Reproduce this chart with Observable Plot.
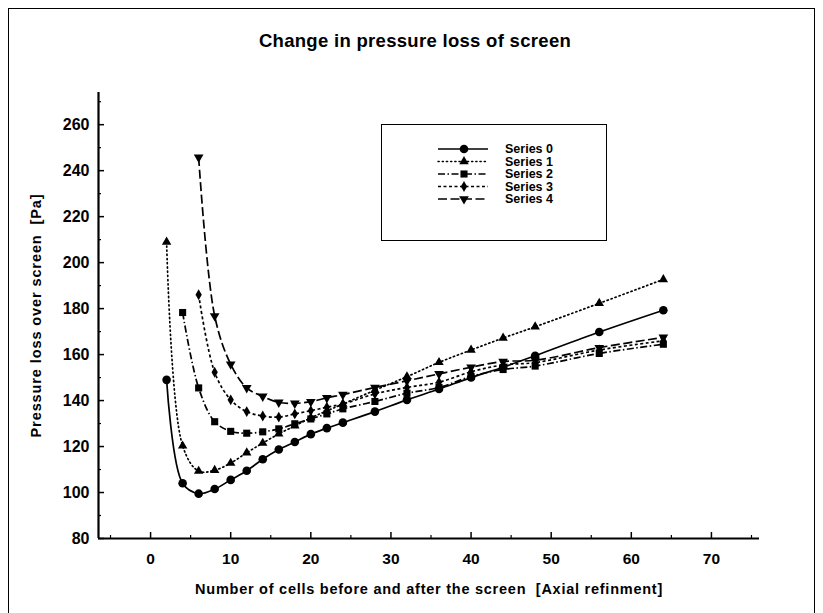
<!DOCTYPE html>
<html>
<head>
<meta charset="utf-8">
<script src="https://cdn.jsdelivr.net/npm/d3@7"></script>
<script src="https://cdn.jsdelivr.net/npm/@observablehq/plot@0.6"></script>
<style>
  body { margin: 0; background: #fff; }
  #wrap { position: relative; width: 823px; height: 613px; overflow: hidden; font-family: "Liberation Sans", Arial, sans-serif; font-weight: bold; color: #000; }
  #border { position: absolute; left: 8px; top: 8px; width: 807px; height: 640px; border: 1.5px solid #000; box-sizing: border-box; }
  #title { position: absolute; left: 0; width: 830px; top: 30px; text-align: center; font-size: 18.5px; letter-spacing: 0.3px; }
  #chart { position: absolute; left: 0; top: 0; }
  #legend { position: absolute; left: 381px; top: 124px; width: 226px; height: 117px; border: 1.5px solid #000; box-sizing: border-box; background: #fff; }
</style>
</head>
<body>
<div id="wrap">
  <div id="border"></div>
  <div id="chart"></div>
  <div id="title">Change in pressure loss of screen</div>
  <div id="legend"></div>
</div>
<script>
// ---- data ----
const cells = [2, 4, 6, 8, 10, 12, 14, 16, 18, 20, 22, 24, 28, 32, 36, 40, 44, 48, 56, 64];
const series0 = [149, 104, 99.5, 101.5, 105.5, 109.5, 114.5, 118.7, 122, 125.4, 128, 130.4, 135.2, 140.3, 145, 150, 154.5, 159.5, 169.8, 179.3];
const series1 = [209, 120.3, 109.3, 109.7, 112.8, 117.3, 121.5, 125.5, 129, 132.5, 135.5, 138.5, 144.5, 150.4, 156.6, 162, 167.2, 172.1, 182.3, 192.7];
const series2 = [null, 178.3, 145.5, 130.8, 126.6, 125.8, 126.4, 127.7, 129.9, 132, 134.2, 136.4, 139.6, 143.2, 145.7, 150.5, 153.5, 155, 160.5, 164.5];
const series3 = [null, null, 186, 152.3, 140.3, 135.2, 133.3, 132.8, 134.2, 135.6, 137.1, 138.5, 142.9, 145.7, 148, 152.5, 155.5, 156.5, 162, 166];
const series4 = [null, null, 245.8, 176.8, 155.8, 145.5, 141.8, 139.2, 138.8, 139.5, 141.2, 142.6, 145.7, 148.6, 151.6, 154.5, 157, 157.5, 163, 167.5];
const seriesNames = ["Series 0", "Series 1", "Series 2", "Series 3", "Series 4"];
const xMajorTicks = [0, 10, 20, 30, 40, 50, 60, 70];
const xMinorTicks = [-5, 5, 15, 25, 35, 45, 55, 65, 75];
const yMajorTicks = [80, 100, 120, 140, 160, 180, 200, 220, 240, 260];
const yMinorTicks = [90, 110, 130, 150, 170, 190, 210, 230, 250, 270];
const xTitle = "Number of cells before and after the screen  [Axial refinment]";
const yTitle = "Pressure loss over screen  [Pa]";

// ---- styles ----
const styles = [
  {dash: null, symbol: "circle", r: 4.3, rotate: 0},
  {dash: "1.2,3", symbol: "triangle", r: 3.5, rotate: 0},
  {dash: "7,2.5,1.5,2.5", symbol: "square", r: 4, rotate: 0},
  {dash: "3,2.5", symbol: "diamond", r: 3.3, rotate: 0},
  {dash: "9,3.5", symbol: "triangle", r: 3.6, rotate: 180}
];
const allSeries = [series0, series1, series2, series3, series4];
const table = [];
allSeries.forEach((vals, si) => {
  vals.forEach((v, i) => { if (v != null) table.push({s: si, x: cells[i], y: v}); });
});

const xDomain = [-6.5, 76];
const yDomain = [80, 274];
const FONT = "'Liberation Sans', Arial, sans-serif";

const marks = [];
styles.forEach((st, si) => {
  const d = table.filter(p => p.s === si);
  marks.push(Plot.line(d, {x: "x", y: "y", curve: "catmull-rom", stroke: "#000", strokeWidth: 1.7, strokeDasharray: st.dash, strokeLinecap: si === 1 ? "round" : "butt"}));
  marks.push(Plot.dot(d, {x: "x", y: "y", symbol: st.symbol, r: st.r, fill: "#000", stroke: "none", rotate: st.rotate}));
});

const chart = Plot.plot({
  width: 823,
  height: 613,
  marginLeft: 98,
  marginRight: 64,
  marginTop: 92,
  marginBottom: 75,
  x: {domain: xDomain, label: null},
  y: {domain: yDomain, label: null},
  style: {background: "transparent", fontFamily: FONT, fontWeight: "bold", fontSize: "15px", color: "#000"},
  marks: [
    Plot.axisX({ticks: xMajorTicks, tickSize: 0, tickPadding: 14, tickFormat: d => String(d), fontSize: 15.5, fontWeight: "bold"}),
    Plot.axisX({ticks: xMajorTicks, tickSize: -6, tickFormat: () => "", strokeWidth: 1.5}),
    Plot.axisX({ticks: xMinorTicks.filter(t => t > xDomain[0] && t < xDomain[1]), tickSize: -3, tickFormat: () => "", strokeWidth: 1.2}),
    Plot.axisY({ticks: yMajorTicks, tickSize: 0, tickPadding: 9, tickFormat: d => String(d), fontSize: 16, fontWeight: "bold"}),
    Plot.axisY({ticks: yMajorTicks, tickSize: -6, tickFormat: () => "", strokeWidth: 1.5}),
    Plot.axisY({ticks: yMinorTicks, tickSize: -3, tickFormat: () => "", strokeWidth: 1.2}),
    Plot.ruleY([yDomain[0]], {stroke: "#000", strokeWidth: 2.2}),
    Plot.ruleX([xDomain[0]], {stroke: "#000", strokeWidth: 2.2}),
    Plot.text([xTitle], {frameAnchor: "bottom", dy: 55, fontSize: 14.5, fontWeight: "bold", text: d => d}),
    Plot.text([yTitle], {frameAnchor: "left", textAnchor: "middle", dx: -62, rotate: -90, fontSize: 14.5, fontWeight: "bold", text: d => d}),
    ...marks
  ]
});
document.getElementById("chart").appendChild(chart);
chart.querySelectorAll("text").forEach(t => {
  if (t.textContent === xTitle) t.style.letterSpacing = "0.75px";
  if (t.textContent === yTitle) t.style.letterSpacing = "0.9px";
});

// ---- legend ----
const lg = d3.select("#legend").append("svg").attr("width", 223).attr("height", 114)
  .style("position", "absolute").style("left", "0px").style("top", "0px");
seriesNames.forEach((name, i) => {
  const st = styles[i];
  const y = 24 + i * 12.5;
  lg.append("line").attr("x1", 56).attr("x2", 106).attr("y1", y).attr("y2", y)
    .attr("stroke", "#000").attr("stroke-width", 1.5)
    .attr("stroke-dasharray", st.dash).attr("stroke-linecap", i === 1 ? "round" : "butt");
  const typ = {circle: d3.symbolCircle, triangle: d3.symbolTriangle, square: d3.symbolSquare, diamond: d3.symbolDiamond}[st.symbol];
  lg.append("path").attr("d", d3.symbol(typ, Math.PI * st.r * st.r)())
    .attr("transform", `translate(82,${y}) rotate(${st.rotate})`).attr("fill", "#000");
  lg.append("text").attr("x", 123).attr("y", y).attr("dy", "0.35em")
    .attr("font-size", 12.5).attr("font-weight", "bold")
    .attr("font-family", FONT).text(name);
});
</script>
</body>
</html>
